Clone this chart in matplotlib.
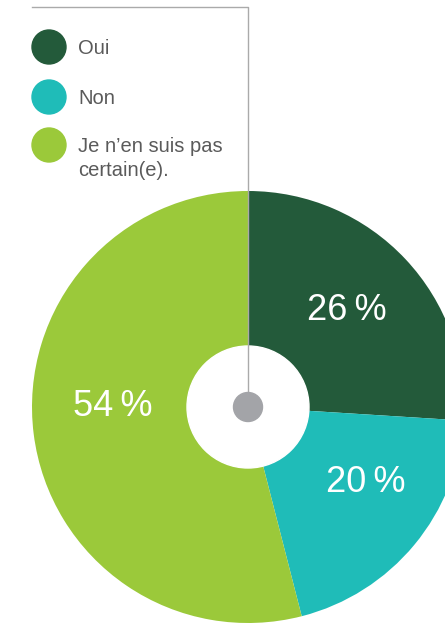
import matplotlib.pyplot as plt
from matplotlib.patches import Circle

labels = ['Oui', 'Non', 'Je n\u2019en suis pas\ncertain(e).']
values = [26, 20, 54]
colors = ['#235a3a', '#1fbcb8', '#9bc93a']
pct_pos = [(347, 315), (366, 142), (113, 219)]

W, H = 445, 625
fig = plt.figure(figsize=(W / 100, H / 100), dpi=100)
ax = fig.add_axes([0, 0, 1, 1])

cx, cy = 248, H - 407
ax.pie(values, colors=colors, startangle=90, counterclock=False,
       center=(cx, cy), radius=216, frame=True,
       wedgeprops=dict(linewidth=0))
ax.set_xlim(0, W)
ax.set_ylim(0, H)
ax.set_aspect('equal')
ax.axis('off')

# hole, leader line and centre dot
ax.add_patch(Circle((cx, cy), 61, color='white', zorder=3))
ax.plot([32, cx, cx], [H - 7, H - 7, cy], color='#aaaaaa', lw=1, zorder=4)
ax.add_patch(Circle((cx, cy), 14.5, color='#a3a4a8', zorder=5))

for v, (x, y) in zip(values, pct_pos):
    ax.text(x, y, f'{v}\u2009%', color='white', fontsize=26, ha='center',
            va='center', family=['Liberation Sans', 'DejaVu Sans'])

leg_y = [H - 47, H - 97, H - 145]
for lab, c, y in zip(labels, colors, leg_y):
    ax.add_patch(Circle((49, y), 17, color=c))
    ax.text(78, y + 8, lab, color='#5a5a5a', fontsize=14.5, ha='left', va='top',
            family=['Liberation Sans', 'DejaVu Sans'], linespacing=1.3)

fig.savefig('out.png', dpi=100)
